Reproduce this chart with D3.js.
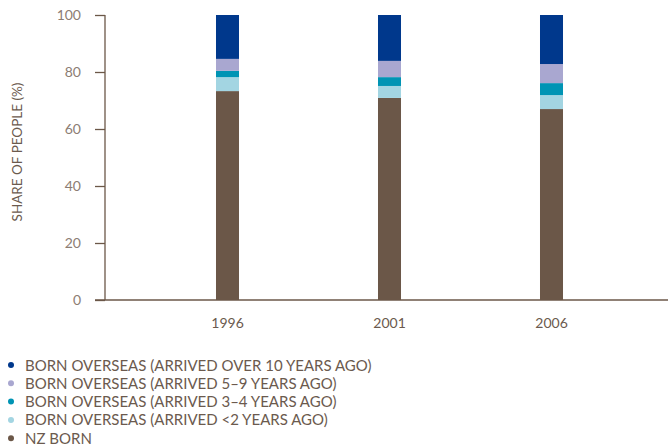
<!DOCTYPE html>
<html>
<head>
<meta charset="utf-8">
<script src="https://cdn.jsdelivr.net/npm/d3@7"></script>
<style>
  body { margin: 0; background: #fff; }
  svg { display: block; font-family: "Lato", "Open Sans", sans-serif; }
</style>
</head>
<body>
<svg id="chart" width="668" height="446"></svg>
<script>
// Census years
const years = ["1996", "2001", "2006"];

// Share of people (%) by birthplace / time since arrival
const nzBorn       = [73.3, 70.9, 67.0];
const arrivedLt2   = [4.9, 4.2, 4.9];
const arrived3to4  = [2.2, 3.1, 4.2];
const arrived5to9  = [4.2, 5.7, 6.7];
const arrivedOver10 = [15.4, 16.1, 17.2];

const yTicks = [0, 20, 40, 60, 80, 100];

// Stack order bottom → top
const seriesKeys = ["nz", "lt2", "a34", "a59", "o10"];
const seriesValues = { nz: nzBorn, lt2: arrivedLt2, a34: arrived3to4, a59: arrived5to9, o10: arrivedOver10 };
const seriesColors = { nz: "#6b5748", lt2: "#a3d5e2", a34: "#0094b4", a59: "#a9a7d0", o10: "#00388c" };

// Legend, top → bottom
const legendItems = [
  { key: "o10", label: "BORN OVERSEAS (ARRIVED OVER 10 YEARS AGO)" },
  { key: "a59", label: "BORN OVERSEAS (ARRIVED 5–9 YEARS AGO)" },
  { key: "a34", label: "BORN OVERSEAS (ARRIVED 3–4 YEARS AGO)" },
  { key: "lt2", label: "BORN OVERSEAS (ARRIVED <2 YEARS AGO)" },
  { key: "nz",  label: "NZ BORN" }
];

const table = years.map((y, i) => {
  const row = { year: y };
  seriesKeys.forEach(k => row[k] = seriesValues[k][i]);
  return row;
});

const svg = d3.select("#chart");
const axisColor = "#6b5748";
const textColor = "#6b5a4e";

const x = d3.scaleBand().domain(years).range([146.5, 632.5]).paddingInner(0.858).paddingOuter(0.429);
const y = d3.scaleLinear().domain([0, 100]).range([300, 15]);

const stack = d3.stack().keys(seriesKeys)(table);

svg.append("g")
  .selectAll("g")
  .data(stack)
  .join("g")
  .attr("fill", d => seriesColors[d.key])
  .selectAll("rect")
  .data(d => d)
  .join("rect")
  .attr("x", d => x(d.data.year))
  .attr("width", x.bandwidth())
  .attr("y", d => y(d[1]))
  .attr("height", d => y(d[0]) - y(d[1]));

// Y axis
const yAxis = svg.append("g")
  .attr("transform", "translate(105,0)")
  .call(d3.axisLeft(y).tickValues(yTicks).tickSize(10).tickPadding(14));
yAxis.select(".domain").attr("stroke", axisColor).attr("stroke-width", 1.3).attr("d", `M0,${y(100)}V${y(0)}`);
yAxis.selectAll(".tick line").attr("stroke", axisColor).attr("stroke-width", 1.3);
yAxis.selectAll(".tick text").attr("fill", "#8c7d73").attr("font-size", 14).attr("font-family", "Lato, sans-serif");

// X axis baseline
svg.append("line")
  .attr("x1", 95).attr("x2", 668)
  .attr("y1", y(0)).attr("y2", y(0))
  .attr("stroke", axisColor).attr("stroke-width", 1.5);

const xAxis = svg.append("g")
  .attr("transform", `translate(0,${y(0)})`)
  .call(d3.axisBottom(x).tickSize(0).tickPadding(18));
xAxis.select(".domain").remove();
xAxis.selectAll(".tick text").attr("fill", textColor).attr("font-size", 14).attr("font-family", "Lato, sans-serif");

// Y axis title
svg.append("text")
  .attr("transform", "translate(22,152) rotate(-90)")
  .attr("text-anchor", "middle")
  .attr("fill", textColor)
  .attr("font-size", 13.5)
  .text("SHARE OF PEOPLE (%)");

// Legend
const legend = svg.append("g");
const rows = legend.selectAll("g")
  .data(legendItems)
  .join("g")
  .attr("transform", (d, i) => `translate(11,${365 + i * 18.3})`);
rows.append("circle").attr("r", 3).attr("fill", d => seriesColors[d.key]);
rows.append("text")
  .attr("x", 14)
  .attr("y", 5.5)
  .attr("fill", textColor)
  .attr("font-size", 15)
  .text(d => d.label);
</script>
</body>
</html>
